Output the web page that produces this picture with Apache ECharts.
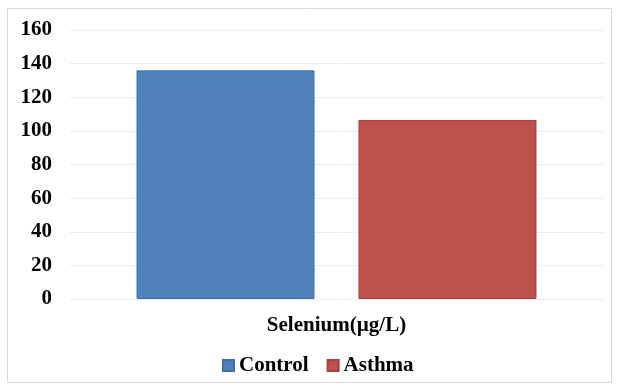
<!DOCTYPE html>
<html><head><meta charset="utf-8">
<script src="https://cdn.jsdelivr.net/npm/echarts@6/dist/echarts.min.js"></script>
<style>html,body{margin:0;padding:0;background:#fff}#c{width:619px;height:385px}</style>
</head><body><div id="c"></div>
<script>
const categories = ['Selenium(µg/L)'];
const seriesNames = ['Control', 'Asthma'];
const controlValues = [136];
const asthmaValues = [106.5];
const yTicks = [0, 20, 40, 60, 80, 100, 120, 140, 160];

const chart = echarts.init(document.getElementById('c'));
const font = '"Liberation Serif", "Times New Roman", serif';
chart.setOption({
  animation: false,
  graphic: [{type:'rect', shape:{x:7.5,y:8.5,width:604,height:374}, style:{fill:'none', stroke:'#d9d9d9', lineWidth:1}}],
  grid: {left: 70, right: 16, top: 30, bottom: 86},
  legend: {
    data: seriesNames, bottom: 4, left: 217, itemWidth: 11, itemHeight: 11, itemGap: 18,
    icon: 'rect',
    textStyle: {fontFamily: font, fontWeight: 'bold', fontSize: 21, color: '#000'}
  },
  xAxis: {
    type: 'category', data: categories,
    axisLine: {show: false}, axisTick: {show: false},
    axisLabel: {fontFamily: font, fontWeight: 'bold', fontSize: 21, color: '#000', margin: 16}
  },
  yAxis: {
    type: 'value', min: yTicks[0], max: yTicks[yTicks.length-1], interval: 20,
    axisLine: {show: false}, axisTick: {show: false},
    splitLine: {lineStyle: {color: '#ebebeb'}},
    axisLabel: {fontFamily: font, fontWeight: 'bold', fontSize: 21, color: '#000', margin: 18}
  },
  series: [
    {name: seriesNames[0], type: 'bar', data: controlValues, barWidth: 178, barGap: '24.7%',
     itemStyle: {color: '#4F81BD', borderColor: '#3f6fa6', borderWidth: 1}},
    {name: seriesNames[1], type: 'bar', data: asthmaValues, barWidth: 178,
     itemStyle: {color: '#C0504D', borderColor: '#a33f3c', borderWidth: 1}}
  ]
});
</script></body></html>
